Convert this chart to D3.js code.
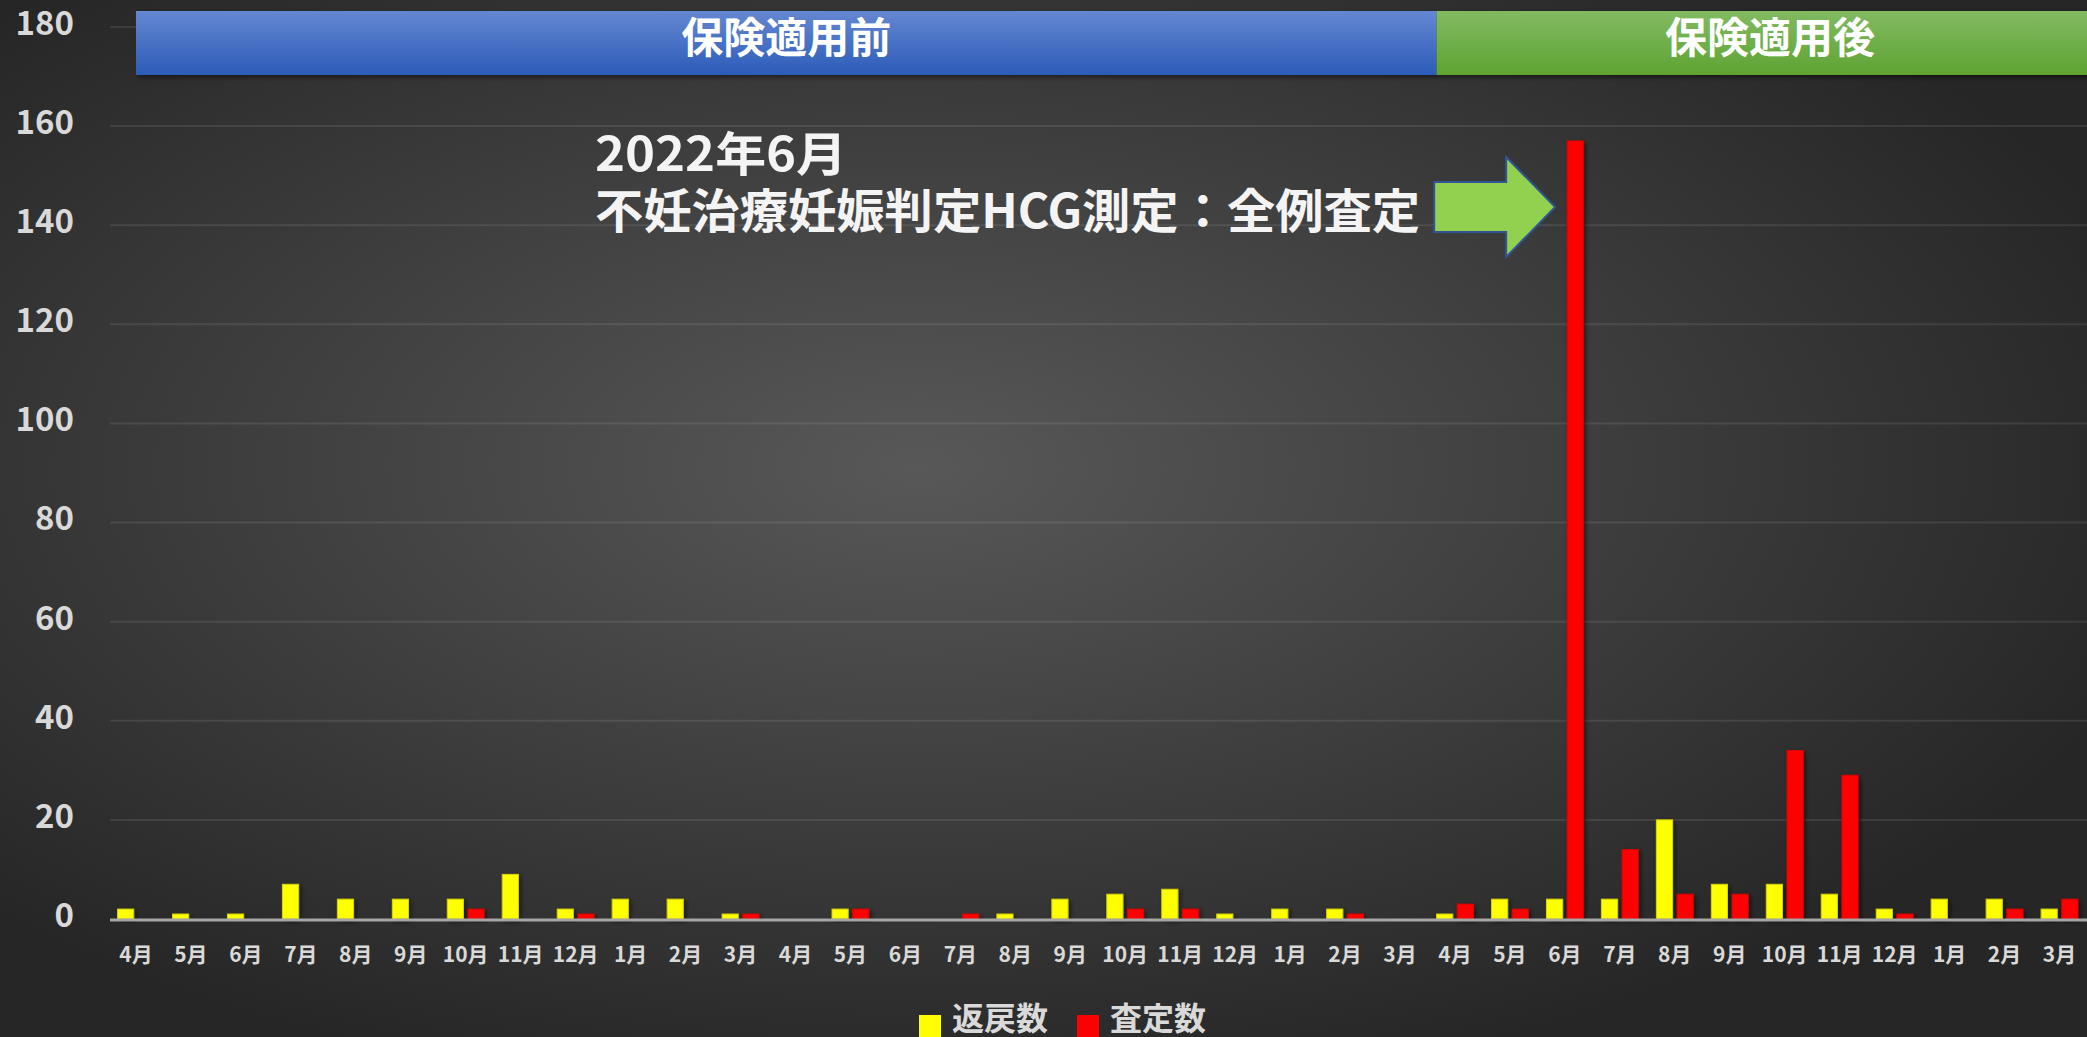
<html>
<head>
<meta charset="utf-8">
<title>返戻数・査定数</title>
<script src="https://cdn.jsdelivr.net/npm/d3@7"></script>
<style>
  body { margin: 0; background: #2a2a2a; overflow: hidden; }
  text { font-family: "Noto Sans CJK JP", "Noto Sans", sans-serif; font-weight: bold; }
</style>
</head>
<body>
<script>
// data
var MONTHS = ["4月","5月","6月","7月","8月","9月","10月","11月","12月","1月","2月","3月",
              "4月","5月","6月","7月","8月","9月","10月","11月","12月","1月","2月","3月",
              "4月","5月","6月","7月","8月","9月","10月","11月","12月","1月","2月","3月"];
var HENREI = [2,1,1,7,4,4,4,9,2,4,4,1,
              0,2,0,0,1,4,5,6,1,2,2,0,
              1,4,4,4,20,7,7,5,2,4,4,2];
var SATEI  = [0,0,0,0,0,0,2,0,1,0,0,1,
              0,2,0,1,0,0,2,2,0,0,1,0,
              3,2,157,14,5,5,34,29,1,0,2,4];
var SERIES = ["返戻数","査定数"];
var Y_TICKS = [0,20,40,60,80,100,120,140,160,180];
var PERIODS = ["保険適用前","保険適用後"];
var PERIOD_START = [0, 24];
var NOTE = ["2022年6月","不妊治療妊娠判定HCG測定：全例査定"];
var NOTE_MONTH = 26;

// view
var W = 2087, H = 1037;
var COLORS = ["#ffff00", "#ff0000"];
var LABEL = "#d9d9d9";

var svg = d3.select("body").append("svg")
  .attr("width", W).attr("height", H);

var defs = svg.append("defs");
var bg = defs.append("radialGradient").attr("id", "bg")
  .attr("cx", "44%").attr("cy", "45%").attr("r", "62%");
bg.append("stop").attr("offset", "0%").attr("stop-color", "#585858");
bg.append("stop").attr("offset", "100%").attr("stop-color", "#262626");

var blue = defs.append("linearGradient").attr("id", "blue")
  .attr("x1", 0).attr("y1", 0).attr("x2", 0).attr("y2", 1);
blue.append("stop").attr("offset", "0%").attr("stop-color", "#6487d2");
blue.append("stop").attr("offset", "100%").attr("stop-color", "#2c5cb8");
var green = defs.append("linearGradient").attr("id", "green")
  .attr("x1", 0).attr("y1", 0).attr("x2", 0).attr("y2", 1);
green.append("stop").attr("offset", "0%").attr("stop-color", "#82ba62");
green.append("stop").attr("offset", "100%").attr("stop-color", "#5ea332");

var shadow = defs.append("filter").attr("id", "shadow")
  .attr("x", "-20%").attr("y", "-20%").attr("width", "160%").attr("height", "160%");
shadow.append("feDropShadow").attr("dx", 2).attr("dy", 2)
  .attr("stdDeviation", 2.5).attr("flood-color", "#000").attr("flood-opacity", 0.55);

svg.append("rect").attr("width", W).attr("height", H).attr("fill", "url(#bg)");

// scales
var x = d3.scaleBand().domain(d3.range(MONTHS.length))
  .range([108.5, W]).paddingInner(0.33).paddingOuter(0.165);
var xs = d3.scaleBand().domain(SERIES).range([0, x.bandwidth()]).paddingInner(0.22);
var y = d3.scaleLinear().domain([0, 180]).range([919, 27]);

// grid
svg.append("g").selectAll("line").data(Y_TICKS.slice(1)).enter().append("line")
  .attr("x1", 110).attr("x2", W)
  .attr("y1", function(d) { return y(d); })
  .attr("y2", function(d) { return y(d); })
  .attr("stroke", "rgba(255,255,255,0.09)").attr("stroke-width", 2);

svg.append("g").selectAll("text").data(Y_TICKS).enter().append("text")
  .attr("x", 74).attr("y", function(d) { return y(d) - 4; })
  .attr("dy", "0.36em").attr("text-anchor", "end")
  .attr("font-size", 33).attr("fill", LABEL)
  .text(function(d) { return d; });

// bars
var rows = MONTHS.map(function(m, i) { return { i: i, v: [HENREI[i], SATEI[i]] }; });
var groups = svg.append("g").selectAll("g").data(rows).enter().append("g")
  .attr("transform", function(d) { return "translate(" + x(d.i) + ",0)"; });
groups.selectAll("rect")
  .data(function(d) { return d.v.map(function(v, k) { return { k: k, v: v }; }); })
  .enter().filter(function(d) { return d.v > 0; }).append("rect")
  .attr("x", function(d) { return xs(SERIES[d.k]); })
  .attr("width", xs.bandwidth())
  .attr("y", function(d) { return y(d.v); })
  .attr("height", function(d) { return y(0) - y(d.v); })
  .attr("fill", function(d) { return COLORS[d.k]; })
  .attr("stroke", function(d) { return d.k == 0 ? "#d6d600" : "#e00000"; })
  .attr("stroke-width", 1)
  .attr("filter", "url(#shadow)");

// baseline
svg.append("line").attr("x1", 110).attr("x2", W)
  .attr("y1", y(0) + 1).attr("y2", y(0) + 1)
  .attr("stroke", "#a6a6a6").attr("stroke-width", 3);

// x labels
svg.append("g").selectAll("text").data(MONTHS).enter().append("text")
  .attr("x", function(d, i) { return x(i) + x.bandwidth() / 2; })
  .attr("y", 962).attr("text-anchor", "middle")
  .attr("font-size", 21).attr("fill", LABEL)
  .text(function(d) { return d; });

// period banner
var px0 = x(PERIOD_START[0]) + x.bandwidth() / 2;
var px1 = x(PERIOD_START[1]);
var banner = svg.append("g").attr("filter", "url(#shadow)");
banner.append("rect").attr("x", px0).attr("y", 11).attr("width", px1 - px0).attr("height", 64)
  .attr("fill", "url(#blue)");
banner.append("rect").attr("x", px1).attr("y", 11).attr("width", W + 20 - px1).attr("height", 64)
  .attr("fill", "url(#green)");
svg.append("text").attr("x", (px0 + px1) / 2).attr("y", 38).attr("dy", "0.36em")
  .attr("text-anchor", "middle").attr("font-size", 42).attr("fill", "#ffffff")
  .text(PERIODS[0]);
svg.append("text").attr("x", 1770).attr("y", 38).attr("dy", "0.36em")
  .attr("text-anchor", "middle").attr("font-size", 42).attr("fill", "#ffffff")
  .text(PERIODS[1]);

// annotation
svg.append("text").attr("x", 595).attr("y", 171)
  .attr("font-size", 47).attr("fill", "#f4f4f4")
  .attr("textLength", 252).attr("lengthAdjust", "spacingAndGlyphs")
  .text(NOTE[0]);
svg.append("text").attr("x", 595).attr("y", 228)
  .attr("font-size", 47).attr("fill", "#f4f4f4")
  .attr("textLength", 825).attr("lengthAdjust", "spacingAndGlyphs")
  .text(NOTE[1]);

var tip = x(NOTE_MONTH) + xs(SERIES[1]) - 12;
var ay = 207;
var arrow = [[tip - 121, ay - 25], [tip - 49, ay - 25], [tip - 49, ay - 50], [tip, ay],
             [tip - 49, ay + 50], [tip - 49, ay + 25], [tip - 121, ay + 25]];
svg.append("polygon")
  .attr("points", arrow.map(function(p) { return p.join(","); }).join(" "))
  .attr("fill", "#92d050").attr("stroke", "#2f5597").attr("stroke-width", 2);

// legend
var legend = svg.append("g").selectAll("g").data(SERIES).enter().append("g")
  .attr("transform", function(d, i) { return "translate(" + (919 + i * 158) + ",0)"; });
legend.append("rect").attr("x", 0).attr("y", 1015).attr("width", 22).attr("height", 30)
  .attr("fill", function(d, i) { return COLORS[i]; });
legend.append("text").attr("x", 33).attr("y", 1030)
  .attr("font-size", 32).attr("fill", LABEL)
  .text(function(d) { return d; });
</script>
</body>
</html>
